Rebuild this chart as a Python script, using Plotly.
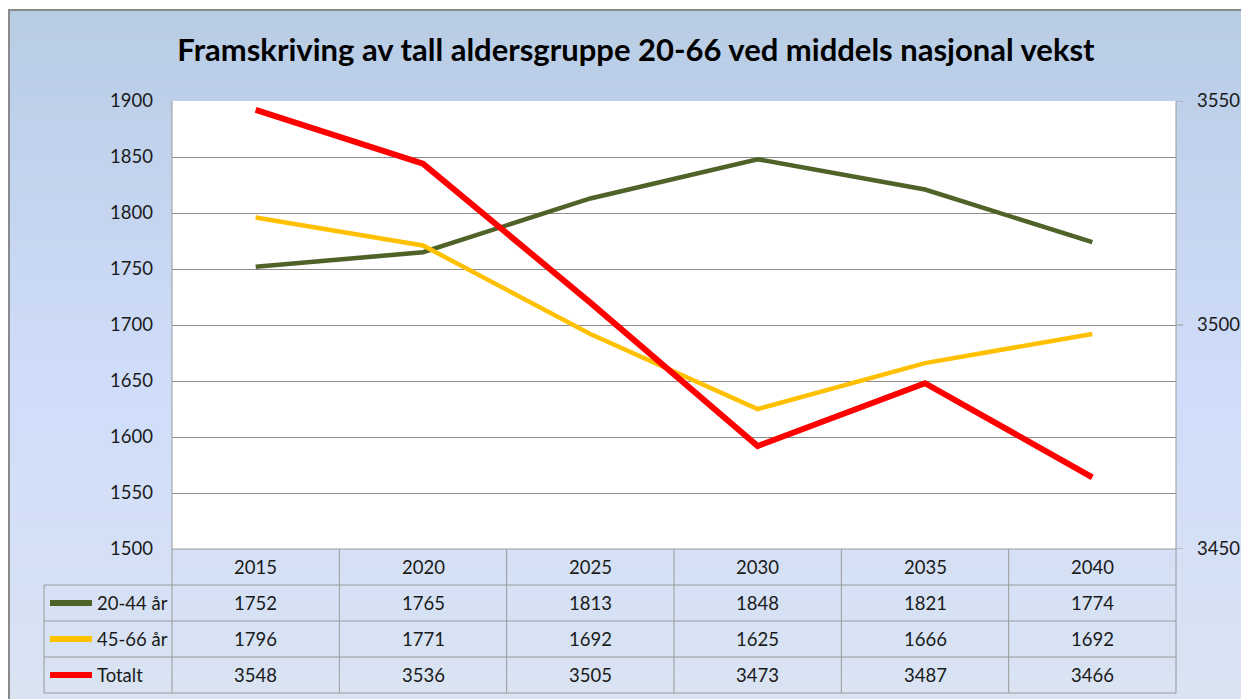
import plotly.graph_objects as go

# ---------------- data ----------------
years = ["2015", "2020", "2025", "2030", "2035", "2040"]
series_names = ["20-44 år", "45-66 år", "Totalt"]
age_20_44 = [1752, 1765, 1813, 1848, 1821, 1774]
age_45_66 = [1796, 1771, 1692, 1625, 1666, 1692]
totalt = [3548, 3536, 3505, 3473, 3487, 3466]
left_ticks = [1500, 1550, 1600, 1650, 1700, 1750, 1800, 1850, 1900]
right_ticks = [3450, 3500, 3550]
title_text = "Framskriving av tall aldersgruppe 20-66 ved middels nasjonal vekst"

# ---------------- styles ----------------
OFF = 0                      # body margin removed via post_script
W, H = 1241, 699
FONT = "Lato"
FS = 18.5
TXT = "#1a1a1a"
C_GREEN = "#4F6228"
C_YELLOW = "#FFC000"
C_RED = "#FF0000"
GRID = "#8C8C8C"
TLINE = "#9A9A9A"


def px(x):
    return (x - OFF) / W


def py(y):
    return 1 - (y - OFF) / H


PL, PR, PT, PB = 172, 1176, 101, 549
ROWS = [549, 585, 621, 657, 693]
LEG_L = 44

fig = go.Figure()

idx = list(range(len(years)))
fig.add_trace(go.Scatter(x=idx, y=age_20_44, name=series_names[0], mode="lines",
                         line=dict(color=C_GREEN, width=4.5), yaxis="y"))
fig.add_trace(go.Scatter(x=idx, y=age_45_66, name=series_names[1], mode="lines",
                         line=dict(color=C_YELLOW, width=4.5), yaxis="y"))
fig.add_trace(go.Scatter(x=idx, y=totalt, name=series_names[2], mode="lines",
                         line=dict(color=C_RED, width=6), yaxis="y2"))

shapes = []
# background gradient (bands) inside the frame
stops = [(10, (184, 204, 228)), (390, (208, 221, 250)), (699, (217, 227, 242))]
nb = 70
for i in range(nb):
    y0 = 10 + (699 - 10) * i / nb
    y1 = 10 + (699 - 10) * (i + 1) / nb
    ym = (y0 + y1) / 2
    for (a, ca), (b, cb) in zip(stops[:-1], stops[1:]):
        if a <= ym <= b:
            t = (ym - a) / (b - a)
            c = tuple(round(ca[k] + (cb[k] - ca[k]) * t) for k in range(3))
            break
    shapes.append(dict(type="rect", xref="paper", yref="paper", layer="below",
                       x0=px(9), x1=1.02, y0=py(y1 + 0.5), y1=py(y0),
                       fillcolor="rgb(%d,%d,%d)" % c, line=dict(width=0)))
# plot area
shapes.append(dict(type="rect", xref="paper", yref="paper", layer="below",
                   x0=px(PL), x1=px(PR), y0=py(PB), y1=py(PT),
                   fillcolor="white", line=dict(width=0)))
# outer frame
shapes.append(dict(type="rect", xref="paper", yref="paper", layer="above",
                   x0=px(9), x1=1.05, y0=-0.05, y1=py(10),
                   fillcolor="rgba(0,0,0,0)", line=dict(color="#8A8A8A", width=2)))
# table horizontal lines
shapes.append(dict(type="line", xref="paper", yref="paper", x0=px(PL), x1=px(PR),
                   y0=py(ROWS[0]), y1=py(ROWS[0]), line=dict(color=TLINE, width=1)))
for r in ROWS[1:]:
    shapes.append(dict(type="line", xref="paper", yref="paper", x0=px(LEG_L), x1=px(PR),
                       y0=py(r), y1=py(r), line=dict(color=TLINE, width=1)))
# table vertical lines
shapes.append(dict(type="line", xref="paper", yref="paper", x0=px(LEG_L), x1=px(LEG_L),
                   y0=py(ROWS[1]), y1=py(ROWS[-1]), line=dict(color=TLINE, width=1)))
for xe in [PL, PR]:
    shapes.append(dict(type="line", xref="paper", yref="paper", x0=px(xe), x1=px(xe),
                       y0=py(PT), y1=py(ROWS[-1]), line=dict(color=TLINE, width=1)))
for i in range(len(years) - 1):
    shapes.append(dict(type="line", xref="x", yref="paper", x0=i + 0.5, x1=i + 0.5,
                       y0=py(ROWS[0]), y1=py(ROWS[-1]), line=dict(color=TLINE, width=1)))
# right axis ticks
for v in right_ticks:
    shapes.append(dict(type="line", xref="paper", yref="y2", x0=px(PR), x1=px(PR + 7),
                       y0=v, y1=v, line=dict(color=TLINE, width=1)))

annotations = []
# year header
for i, yv in enumerate(years):
    annotations.append(dict(x=i, y=py((ROWS[0] + ROWS[1]) / 2), xref="x", yref="paper",
                            text=yv, showarrow=False, yanchor="middle",
                            font=dict(family=FONT, size=FS, color=TXT)))
table_rows = [age_20_44, age_45_66, totalt]
colors = [C_GREEN, C_YELLOW, C_RED]
for r, (vals, nm, col) in enumerate(zip(table_rows, series_names, colors)):
    yc = (ROWS[r + 1] + ROWS[r + 2]) / 2
    for i, v in enumerate(vals):
        annotations.append(dict(x=i, y=py(yc), xref="x", yref="paper", text=str(v),
                                showarrow=False, yanchor="middle",
                                font=dict(family=FONT, size=FS, color=TXT)))
    shapes.append(dict(type="line", xref="paper", yref="paper", x0=px(50), x1=px(92),
                       y0=py(yc), y1=py(yc), line=dict(color=col, width=6)))
    annotations.append(dict(x=px(95), y=py(yc), xref="paper", yref="paper", text=nm,
                            xanchor="left", yanchor="middle", showarrow=False,
                            font=dict(family=FONT, size=FS, color=TXT)))

fig.update_layout(
    width=W, height=H, autosize=False,
    margin=dict(l=0, r=0, t=0, b=0, pad=0, autoexpand=False),
    paper_bgcolor="white", plot_bgcolor="rgba(0,0,0,0)",
    showlegend=False,
    title=dict(text=title_text, x=px(636), y=py(50), xanchor="center", yanchor="middle",
               font=dict(family=FONT, size=31, color="#000000", weight="bold")),
    xaxis=dict(domain=[px(PL), px(PR)], range=[-0.5, len(years) - 0.5],
               showticklabels=False, showgrid=False, zeroline=False, showline=False,
               ticks="", automargin=False),
    yaxis=dict(domain=[py(PB), py(PT)], range=[left_ticks[0], left_ticks[-1]],
               tickvals=left_ticks, showgrid=True, gridcolor=GRID, gridwidth=1,
               zeroline=False, showline=False, ticks="", ticklabelstandoff=18,
               automargin=False,
               tickfont=dict(family=FONT, size=FS, color=TXT)),
    yaxis2=dict(overlaying="y", side="right", range=[right_ticks[0], right_ticks[-1]],
                tickvals=right_ticks, showgrid=False, zeroline=False, showline=False,
                ticks="", ticklabelstandoff=20, automargin=False,
                tickfont=dict(family=FONT, size=FS, color=TXT)),
    shapes=shapes, annotations=annotations,
)

fig.write_html("out.html",
               config={"displayModeBar": False},
               post_script="document.body.style.margin='0';document.body.style.overflow='hidden';")
